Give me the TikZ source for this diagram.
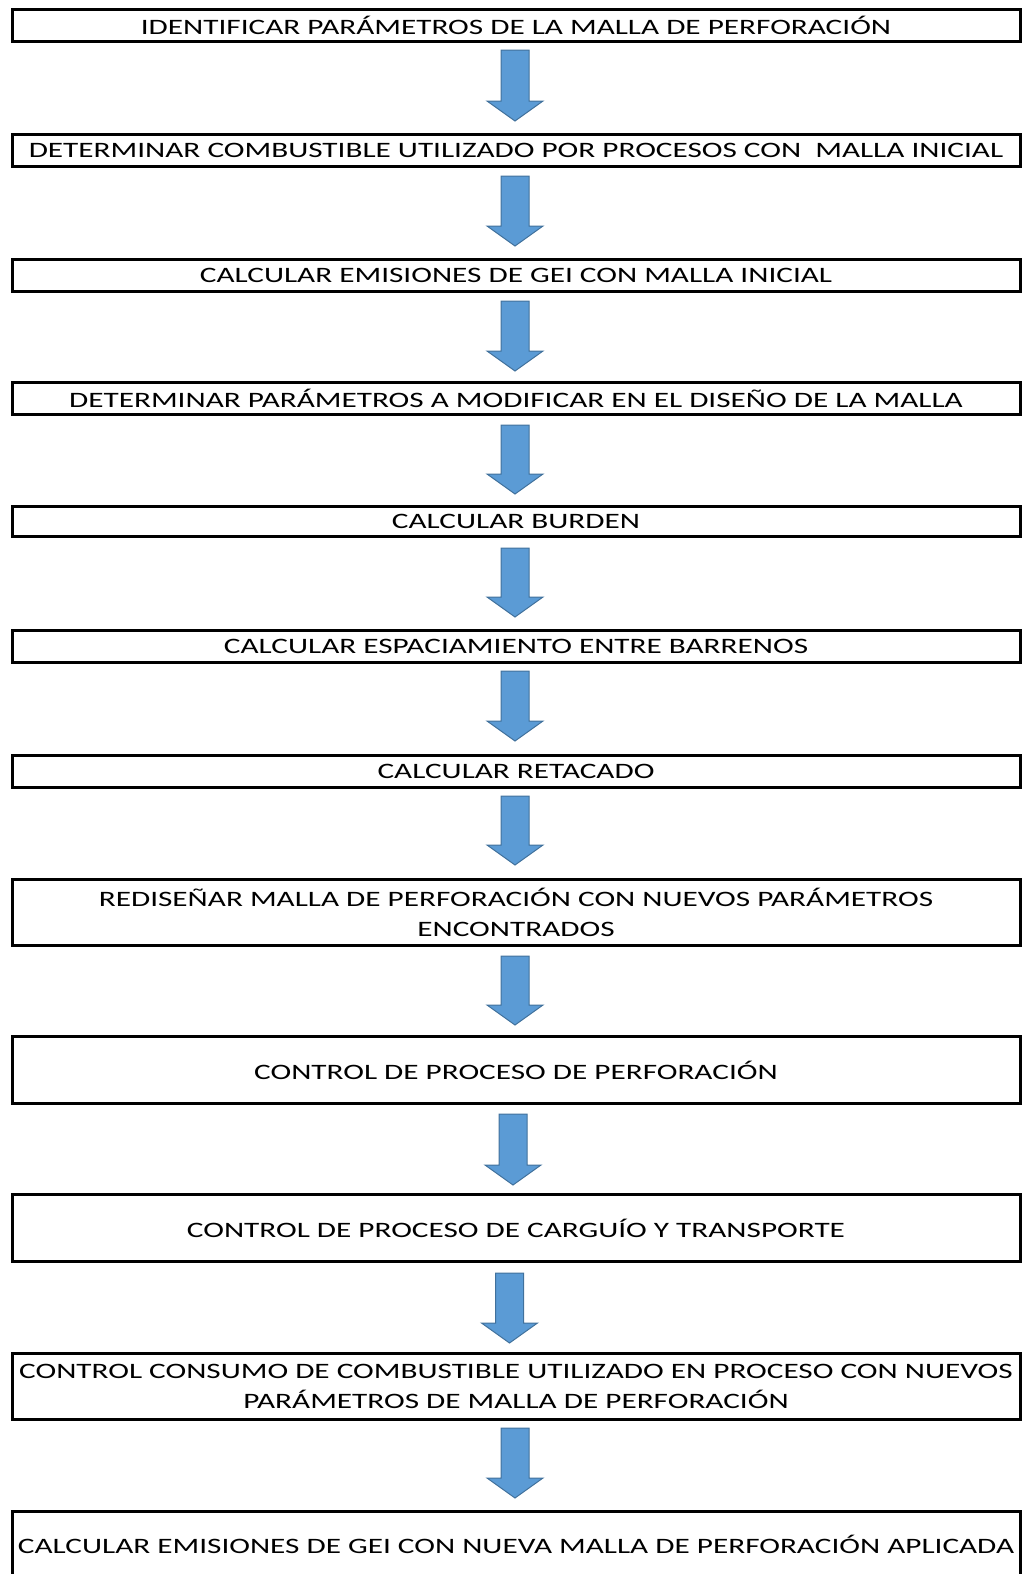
\documentclass[tikz,border=0pt]{standalone}
\usepackage{fontspec}
\setmainfont{Carlito}[FakeStretch=1.42]
\usetikzlibrary{calc}
\definecolor{arrowfill}{RGB}{91,155,213}
\definecolor{arrowedge}{RGB}{65,113,156}
\tikzset{
  stepbox/.style={draw=black, line width=3pt, minimum width=1008pt, inner sep=0pt,
    align=center, font=\fontsize{22pt}{30pt}\selectfont, text=black},
  flowarr/.style={fill=arrowfill, draw=arrowedge, line width=1pt, line join=miter}
}
% block arrow from a top coordinate down to a tip coordinate
\newcommand{\flowarrow}[2]{%
  \draw[flowarr] ($(#1)+(-14,0)$) -- ($(#2)+(-14,-20)$) -- ($(#2)+(-28,-20)$) -- (#2)
    -- ($(#2)+(28,-20)$) -- ($(#2)+(14,-20)$) -- ($(#1)+(14,0)$) -- cycle;}
\begin{document}
\begin{tikzpicture}[x=1pt, y=-1pt]
\useasboundingbox (0,0) rectangle (1025,1574);

\node[stepbox, minimum height=32pt] (b1) at (516,25.5) {IDENTIFICAR PARÁMETROS DE LA MALLA DE PERFORACIÓN};
\node[stepbox, minimum height=32pt] (b2) at (516,150.5) {DETERMINAR COMBUSTIBLE UTILIZADO POR PROCESOS CON\ \ MALLA INICIAL};
\node[stepbox, minimum height=32pt] (b3) at (516,275) {CALCULAR EMISIONES DE GEI CON MALLA INICIAL};
\node[stepbox, minimum height=32pt] (b4) at (516,398.5) {DETERMINAR PARÁMETROS A MODIFICAR EN EL DISEÑO DE LA MALLA};
\node[stepbox, minimum height=30pt] (b5) at (516,521) {CALCULAR BURDEN};
\node[stepbox, minimum height=32pt] (b6) at (516,646.5) {CALCULAR ESPACIAMIENTO ENTRE BARRENOS};
\node[stepbox, minimum height=32pt] (b7) at (516,771) {CALCULAR RETACADO};
\node[stepbox, minimum height=66pt] (b8) at (516,912.5) {REDISEÑAR MALLA DE PERFORACIÓN CON NUEVOS PARÁMETROS\\ENCONTRADOS};
\node[stepbox, minimum height=67pt] (b9) at (516,1070) {CONTROL DE PROCESO DE PERFORACIÓN};
\node[stepbox, minimum height=67pt] (b10) at (516,1228) {CONTROL DE PROCESO DE CARGUÍO Y TRANSPORTE};
\node[stepbox, minimum height=66pt] (b11) at (516,1386) {CONTROL CONSUMO DE COMBUSTIBLE UTILIZADO EN PROCESO CON NUEVOS\\PARÁMETROS DE MALLA DE PERFORACIÓN};
\node[stepbox, minimum height=67pt] (b12) at (516,1544.5) {CALCULAR EMISIONES DE GEI CON NUEVA MALLA DE PERFORACIÓN APLICADA};

% arrow ends
\coordinate (a1s) at (515,50);    \coordinate (a1e) at (515,121);
\coordinate (a2s) at (515,176);   \coordinate (a2e) at (515,246);
\coordinate (a3s) at (515,301);   \coordinate (a3e) at (515,371);
\coordinate (a4s) at (515,425);   \coordinate (a4e) at (515,494);
\coordinate (a5s) at (515,548);   \coordinate (a5e) at (515,617);
\coordinate (a6s) at (515,671);   \coordinate (a6e) at (515,741);
\coordinate (a7s) at (515,796);   \coordinate (a7e) at (515,865);
\coordinate (a8s) at (515,956);   \coordinate (a8e) at (515,1025);
\coordinate (a9s) at (513,1114);  \coordinate (a9e) at (513,1185);
\coordinate (a10s) at (509.5,1273); \coordinate (a10e) at (509.5,1343);
\coordinate (a11s) at (515,1428); \coordinate (a11e) at (515,1498);

\foreach \i in {1,...,11}{\flowarrow{a\i s}{a\i e}}
\end{tikzpicture}
\end{document}
